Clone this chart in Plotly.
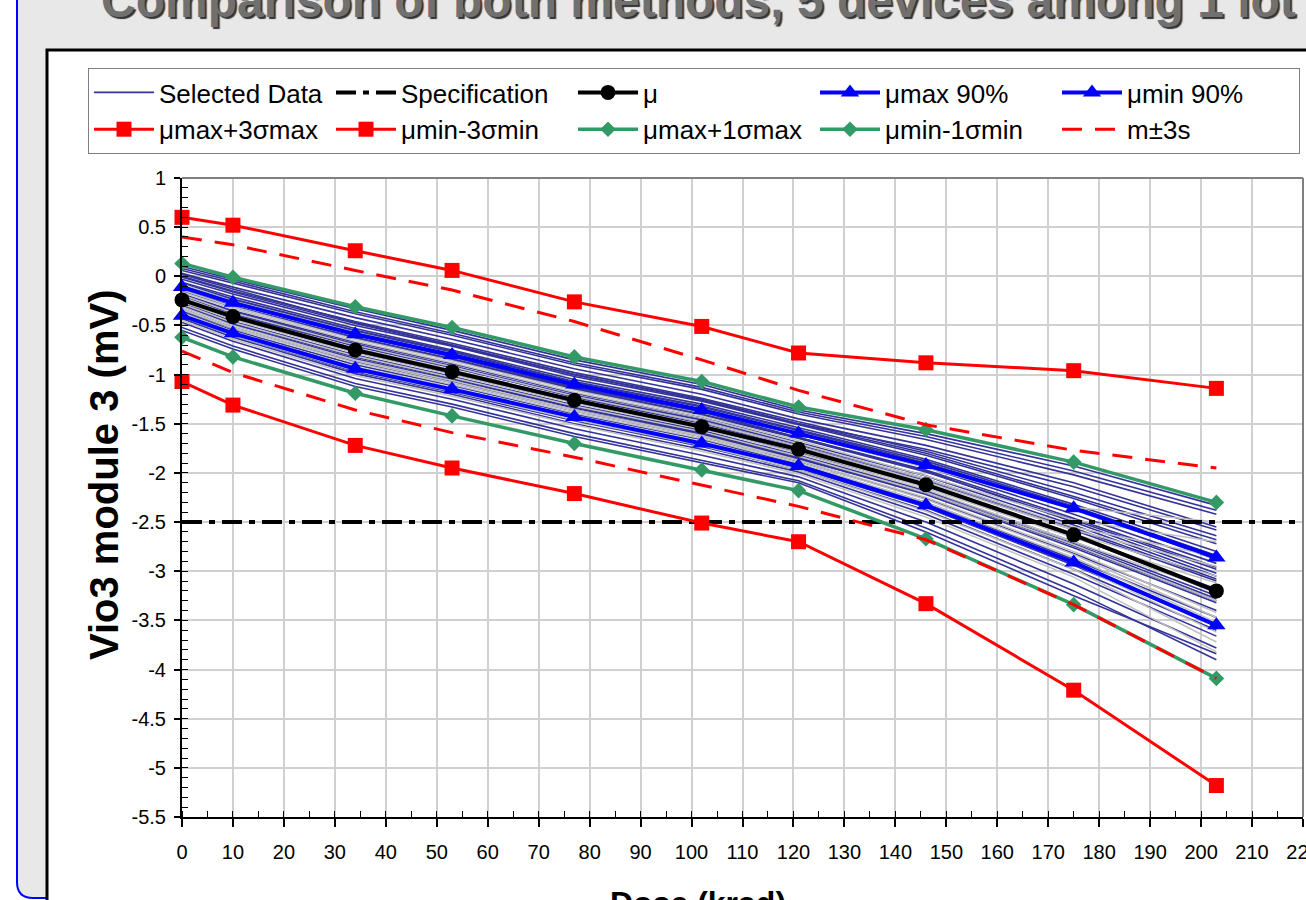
import plotly.graph_objects as go

# ---------------- data ----------------
dose = [0, 10, 34, 53, 77, 102, 121, 146, 175, 203]

mu = [-0.24, -0.41, -0.75, -0.97, -1.26, -1.53, -1.76, -2.12, -2.63, -3.20]
mu_max90 = [-0.11, -0.27, -0.59, -0.80, -1.10, -1.36, -1.60, -1.92, -2.36, -2.86]
mu_min90 = [-0.40, -0.58, -0.94, -1.15, -1.43, -1.70, -1.93, -2.33, -2.91, -3.55]
mu_max_3smax = [0.60, 0.52, 0.26, 0.06, -0.26, -0.51, -0.78, -0.88, -0.96, -1.14]
mu_min_3smin = [-1.07, -1.31, -1.72, -1.95, -2.21, -2.51, -2.70, -3.33, -4.21, -5.18]
mu_max_1smax = [0.13, -0.01, -0.31, -0.52, -0.82, -1.07, -1.33, -1.56, -1.89, -2.30]
mu_min_1smin = [-0.62, -0.82, -1.19, -1.42, -1.70, -1.97, -2.18, -2.67, -3.34, -4.09]
m_plus_3s = [0.40, 0.32, 0.06, -0.14, -0.46, -0.85, -1.16, -1.51, -1.77, -1.95]
m_minus_3s = [-0.76, -0.98, -1.36, -1.59, -1.84, -2.12, -2.34, -2.68, -3.34, -4.09]

spec_x = [0, 220]
spec_y = [-2.5, -2.5]

selected_data = [
    [0.10, -0.03, -0.33, -0.55, -0.85, -1.10, -1.36, -1.60, -1.93, -2.33],
    [0.08, -0.05, -0.36, -0.58, -0.88, -1.13, -1.38, -1.63, -1.98, -2.38],
    [0.06, -0.07, -0.38, -0.60, -0.90, -1.15, -1.40, -1.66, -2.02, -2.42],
    [0.03, -0.11, -0.42, -0.64, -0.94, -1.20, -1.45, -1.72, -2.10, -2.55],
    [0.02, -0.13, -0.47, -0.70, -1.00, -1.25, -1.50, -1.76, -2.14, -2.58],
    [0.00, -0.15, -0.46, -0.68, -0.98, -1.24, -1.48, -1.78, -2.20, -2.64],
    [-0.01, -0.16, -0.48, -0.70, -1.00, -1.26, -1.50, -1.80, -2.24, -2.68],
    [-0.03, -0.18, -0.50, -0.71, -1.02, -1.27, -1.51, -1.82, -2.26, -2.72],
    [-0.06, -0.21, -0.53, -0.75, -1.05, -1.30, -1.54, -1.86, -2.32, -2.80],
    [-0.07, -0.23, -0.55, -0.76, -1.07, -1.32, -1.56, -1.88, -2.34, -2.84],
    [-0.09, -0.24, -0.56, -0.77, -1.08, -1.33, -1.57, -1.90, -2.36, -2.88],
    [-0.10, -0.27, -0.60, -0.82, -1.13, -1.38, -1.64, -1.98, -2.50, -3.02],
    [-0.12, -0.28, -0.60, -0.81, -1.12, -1.37, -1.61, -1.94, -2.42, -2.92],
    [-0.14, -0.30, -0.62, -0.84, -1.14, -1.40, -1.64, -1.97, -2.46, -2.96],
    [-0.15, -0.31, -0.63, -0.85, -1.15, -1.41, -1.65, -1.99, -2.48, -2.98],
    [-0.18, -0.35, -0.67, -0.89, -1.19, -1.44, -1.69, -2.03, -2.53, -3.05],
    [-0.19, -0.36, -0.69, -0.91, -1.21, -1.46, -1.71, -2.06, -2.56, -3.08],
    [-0.20, -0.38, -0.71, -0.93, -1.22, -1.48, -1.73, -2.08, -2.58, -3.10],
    [-0.22, -0.40, -0.70, -0.92, -1.23, -1.50, -1.75, -2.12, -2.64, -3.22],
    [-0.25, -0.43, -0.77, -0.99, -1.28, -1.54, -1.79, -2.14, -2.65, -3.18],
    [-0.27, -0.46, -0.80, -1.02, -1.31, -1.57, -1.82, -2.18, -2.70, -3.25],
    [-0.29, -0.48, -0.82, -1.04, -1.33, -1.59, -1.84, -2.20, -2.74, -3.30],
    [-0.30, -0.49, -0.84, -1.05, -1.34, -1.60, -1.85, -2.22, -2.76, -3.32],
    [-0.33, -0.52, -0.87, -1.08, -1.37, -1.63, -1.88, -2.26, -2.82, -3.40],
    [-0.35, -0.53, -0.86, -1.07, -1.36, -1.61, -1.86, -2.20, -2.72, -3.28],
    [-0.36, -0.55, -0.90, -1.11, -1.40, -1.66, -1.91, -2.30, -2.88, -3.47],
    [-0.39, -0.58, -0.94, -1.15, -1.44, -1.70, -1.95, -2.35, -2.94, -3.55],
    [-0.41, -0.60, -0.97, -1.18, -1.47, -1.73, -1.97, -2.38, -2.98, -3.60],
    [-0.43, -0.62, -0.99, -1.20, -1.50, -1.76, -1.99, -2.42, -3.03, -3.66],
    [-0.47, -0.66, -1.04, -1.25, -1.55, -1.82, -2.04, -2.50, -3.13, -3.78],
    [-0.52, -0.71, -1.09, -1.30, -1.60, -1.87, -2.08, -2.56, -3.20, -3.90],
    [-0.55, -0.74, -1.12, -1.33, -1.63, -1.90, -2.10, -2.60, -3.25, -3.84],
]

other_data = [
    [-0.08, -0.25, -0.57, -0.79, -1.09, -1.35, -1.60, -1.95, -2.35, -2.50],
    [-0.14, -0.31, -0.64, -0.86, -1.16, -1.42, -1.67, -2.03, -2.48, -2.70],
    [-0.19, -0.37, -0.70, -0.92, -1.22, -1.48, -1.73, -2.09, -2.58, -2.95],
    [-0.24, -0.42, -0.76, -0.98, -1.27, -1.53, -1.78, -2.15, -2.66, -3.12],
    [-0.28, -0.47, -0.81, -1.03, -1.32, -1.58, -1.83, -2.20, -2.73, -3.30],
    [-0.31, -0.50, -0.85, -1.06, -1.36, -1.62, -1.87, -2.25, -2.80, -3.42],
    [-0.34, -0.53, -0.88, -1.10, -1.39, -1.65, -1.90, -2.30, -2.86, -3.52],
    [-0.37, -0.56, -0.92, -1.13, -1.42, -1.68, -1.93, -2.34, -2.92, -3.62],
    [-0.41, -0.60, -0.96, -1.17, -1.46, -1.72, -1.97, -2.39, -2.98, -3.72],
    [-0.45, -0.64, -1.01, -1.22, -1.51, -1.78, -2.01, -2.45, -3.06, -3.82],
    [-0.16, -0.33, -0.66, -0.88, -1.18, -1.44, -1.70, -2.06, -2.55, -2.85],
    [-0.26, -0.44, -0.78, -1.00, -1.29, -1.55, -1.80, -2.17, -2.70, -3.20],
    [-0.21, -0.40, -0.73, -0.95, -1.25, -1.51, -1.76, -2.12, -2.62, -3.05],
    [-0.33, -0.52, -0.86, -1.08, -1.37, -1.63, -1.88, -2.27, -2.83, -3.47],
]

x_ticks = list(range(0, 221, 10))
x_tick_labels = [str(v) for v in x_ticks]
y_ticks = [1, 0.5, 0, -0.5, -1, -1.5, -2, -2.5, -3, -3.5, -4, -4.5, -5, -5.5]
y_tick_labels = ["1", "0.5", "0", "-0.5", "-1", "-1.5", "-2", "-2.5", "-3", "-3.5",
                 "-4", "-4.5", "-5", "-5.5"]

title_text = "Comparison of both methods, 5 devices among 1 lot"
x_title = "Dose (krad)"
y_title = "Vio3 module 3 (mV)"

# ---------------- style ----------------
W, H = 1306, 900
FONT = "Liberation Sans, Arial, sans-serif"
NAVY = "#333399"
GRAY = "#C0C0C0"
GREEN = "#339966"
RED = "#FF0000"
BLUE = "#0000FF"


def px(x):
    return x / W


def py(y):
    return 1 - y / H


fig = go.Figure()

for i, ys in enumerate(selected_data):
    fig.add_trace(go.Scatter(
        x=dose, y=ys, mode="lines", name="Selected Data",
        line=dict(color=NAVY, width=1.6),
        legendgroup="sel", showlegend=(i == 0), legendrank=1,
        cliponaxis=False, hoverinfo="skip"))

for ys in other_data:
    fig.add_trace(go.Scatter(
        x=dose, y=ys, mode="lines", name="All Data",
        line=dict(color=GRAY, width=1.5), showlegend=False,
        cliponaxis=False, hoverinfo="skip"))

fig.add_trace(go.Scatter(
    x=spec_x, y=spec_y, mode="lines", name="Specification",
    line=dict(color="black", width=4, dash="20px,7px,6px,7px"),
    legendrank=2, cliponaxis=False))

fig.add_trace(go.Scatter(
    x=dose, y=mu_max_1smax, mode="lines+markers", name="μmax+1σmax",
    line=dict(color=GREEN, width=3.5),
    marker=dict(symbol="diamond", size=12, color=GREEN),
    legendrank=8, cliponaxis=False))
fig.add_trace(go.Scatter(
    x=dose, y=mu_min_1smin, mode="lines+markers", name="μmin-1σmin",
    line=dict(color=GREEN, width=3.5),
    marker=dict(symbol="diamond", size=12, color=GREEN),
    legendrank=9, cliponaxis=False))

fig.add_trace(go.Scatter(
    x=dose, y=mu_max90, mode="lines+markers", name="μmax 90%",
    line=dict(color=BLUE, width=4),
    marker=dict(symbol="triangle-up", size=16, color=BLUE),
    legendrank=4, cliponaxis=False))
fig.add_trace(go.Scatter(
    x=dose, y=mu_min90, mode="lines+markers", name="μmin 90%",
    line=dict(color=BLUE, width=4),
    marker=dict(symbol="triangle-up", size=16, color=BLUE),
    legendrank=5, cliponaxis=False))

fig.add_trace(go.Scatter(
    x=dose, y=mu, mode="lines+markers", name="μ",
    line=dict(color="black", width=4),
    marker=dict(symbol="circle", size=15, color="black"),
    legendrank=3, cliponaxis=False))

fig.add_trace(go.Scatter(
    x=dose, y=mu_max_3smax, mode="lines+markers", name="μmax+3σmax",
    line=dict(color=RED, width=3),
    marker=dict(symbol="square", size=15, color=RED),
    legendrank=6, cliponaxis=False))
fig.add_trace(go.Scatter(
    x=dose, y=mu_min_3smin, mode="lines+markers", name="μmin-3σmin",
    line=dict(color=RED, width=3),
    marker=dict(symbol="square", size=15, color=RED),
    legendrank=7, cliponaxis=False))

fig.add_trace(go.Scatter(
    x=dose, y=m_plus_3s, mode="lines", name="m±3s",
    line=dict(color=RED, width=3, dash="20px,13px"),
    legendgroup="m3s", legendrank=10, cliponaxis=False))
fig.add_trace(go.Scatter(
    x=dose, y=m_minus_3s, mode="lines", name="m±3s",
    line=dict(color=RED, width=3, dash="20px,13px"),
    legendgroup="m3s", showlegend=False, cliponaxis=False))

shapes = [
    # chart area (gray with blue rounded border)
    dict(type="path", xref="paper", yref="paper", layer="below",
         path=(f"M {px(17)},{py(-20)} L {px(17)},{py(882)} "
               f"Q {px(17)},{py(898)} {px(33)},{py(898)} "
               f"L {px(1400)},{py(898)} L {px(1400)},{py(-20)} Z"),
         fillcolor="#E8E8E8", line=dict(color="#0000FF", width=2)),
    # white framed inner area
    dict(type="rect", xref="paper", yref="paper", layer="below",
         x0=px(47), y0=py(50), x1=px(1400), y1=py(1000),
         fillcolor="white", line=dict(color="black", width=3)),
    # plot area top / right border
    dict(type="line", xref="x domain", yref="y domain", layer="above",
         x0=0, x1=1, y0=1, y1=1, line=dict(color="#808080", width=2)),
    dict(type="line", xref="x domain", yref="y domain", layer="above",
         x0=1, x1=1, y0=0, y1=1, line=dict(color="#808080", width=2)),
]

annotations = [
    dict(text=f"<b>{title_text}</b>", xref="paper", yref="paper",
         x=px(699), y=py(1), xanchor="center", yanchor="middle", showarrow=False,
         font=dict(family=FONT, size=48, color="#707070",
                   shadow="2px 2px 1px #333333")),
    dict(text=f"<b>{x_title}</b>", xref="paper", yref="paper",
         x=px(698), y=py(903), xanchor="center", yanchor="middle", showarrow=False,
         font=dict(family=FONT, size=32, color="black")),
    dict(text=f"<b>{y_title}</b>", xref="paper", yref="paper",
         x=px(104), y=py(475), xanchor="center", yanchor="middle", showarrow=False,
         textangle=-90, font=dict(family=FONT, size=40, color="black")),
]

fig.update_layout(
    width=W, height=H,
    margin=dict(l=0, r=0, t=0, b=0, pad=0),
    paper_bgcolor="white",
    plot_bgcolor="rgba(0,0,0,0)",
    font=dict(family=FONT, color="black", size=20),
    showlegend=True,
    legend=dict(
        orientation="h", x=px(88), y=py(68), xanchor="left", yanchor="top",
        bgcolor="white", bordercolor="#808080", borderwidth=1,
        font=dict(family=FONT, size=26, color="black"),
        itemwidth=60, entrywidth=167, entrywidthmode="pixels",
        traceorder="normal", itemsizing="trace",
    ),
    xaxis=dict(
        domain=[px(182), px(1303)], range=[0, 220], autorange=False,
        tickmode="array", tickvals=x_ticks, ticktext=x_tick_labels,
        ticks="outside", ticklen=8, tickwidth=1.5, tickcolor="black",
        tickfont=dict(family=FONT, size=20, color="black"),
        ticklabelstandoff=8, ticklabeloverflow="allow",
        showline=True, linecolor="black", linewidth=2,
        showgrid=True, gridcolor="#D0D0D0", gridwidth=1.5,
        zeroline=False, automargin=False,
        minor=dict(dtick=5, ticks="inside", ticklen=6, tickwidth=1,
                   tickcolor="black", showgrid=False),
    ),
    yaxis=dict(
        domain=[1 - 817 / H, 1 - 178 / H], range=[-5.5, 1], autorange=False,
        tickmode="array", tickvals=y_ticks, ticktext=y_tick_labels,
        ticks="outside", ticklen=6, tickwidth=1.5, tickcolor="black",
        tickfont=dict(family=FONT, size=20, color="black"),
        ticklabelstandoff=4, ticklabeloverflow="allow",
        showline=True, linecolor="black", linewidth=2,
        showgrid=True, gridcolor="#D0D0D0", gridwidth=1.5,
        zeroline=False, automargin=False,
        minor=dict(dtick=0.1, ticks="inside", ticklen=6, tickwidth=1,
                   tickcolor="black", showgrid=False),
    ),
    shapes=shapes,
    annotations=annotations,
)

fig.write_html("out.html")
